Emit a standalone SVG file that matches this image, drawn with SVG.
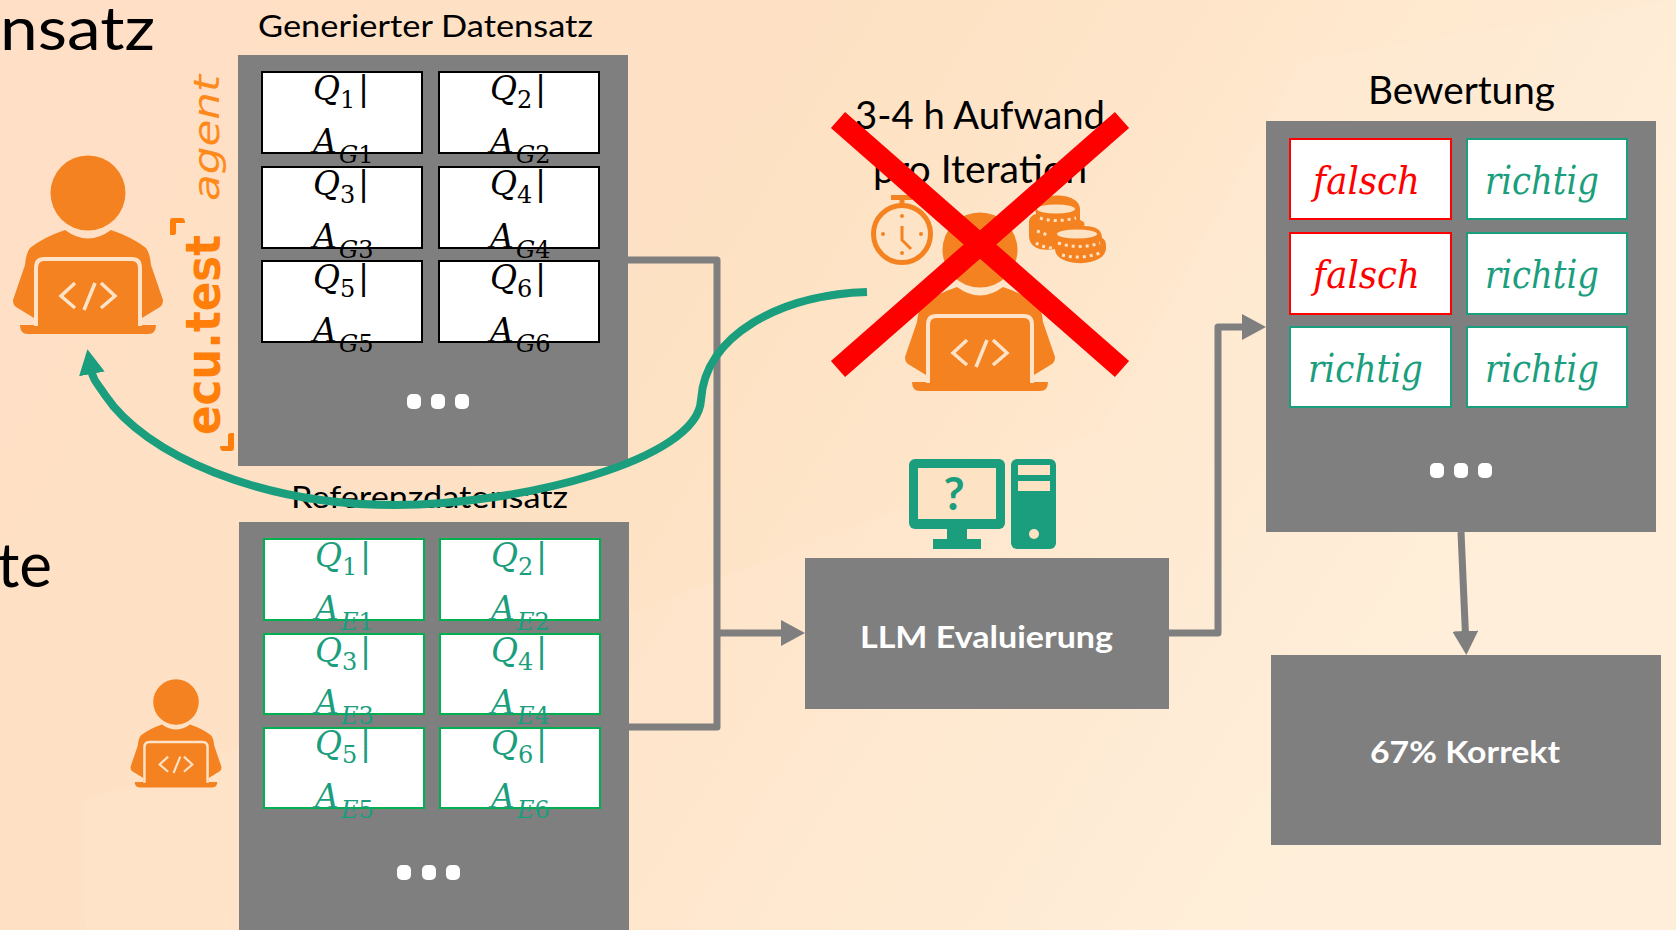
<svg xmlns="http://www.w3.org/2000/svg" width="1676" height="930" viewBox="0 0 1676 930">
<style>
.t{font-family:"Lato","Open Sans",sans-serif;fill:#000}
.m{font-family:"DejaVu Serif",serif;font-style:italic;font-size:33px}
.s{font-size:24px;font-style:normal}
.si{font-size:24px;font-style:italic}
.p{fill:#7f7f7f}
.cb{fill:#fff;stroke:#000;stroke-width:2}
.cg{fill:#fff;stroke:#00b050;stroke-width:2}
.ct{fill:#fff;stroke:#1a9e7d;stroke-width:2}
.cr{fill:#fff;stroke:#f00;stroke-width:2}
.k{fill:#000}.g{fill:#1a9e7d}.r{fill:#f00}
.d{fill:#fff}
.b{font-family:"Lato",sans-serif;font-weight:700;fill:#fff;font-size:31px}
.w{font-size:39px}
.c{fill:none;stroke:#7f7f7f;stroke-width:7;stroke-linejoin:round}
.o{fill:#f58220}
.l{fill:none;stroke:#ffe3c8;stroke-width:4}
</style>
<defs>
<linearGradient id="bg" x1="0" y1="0" x2="1" y2="0.35"><stop offset="0" stop-color="#ffdfc6"/><stop offset="0.5" stop-color="#fee2c4"/><stop offset="1" stop-color="#ffeed8"/></linearGradient>
<marker id="ah" markerUnits="userSpaceOnUse" markerWidth="30" markerHeight="26" refX="4" refY="13" orient="auto"><path d="M0,0L24,13L0,26Z" fill="#7f7f7f"/></marker>
<marker id="ag" markerUnits="userSpaceOnUse" markerWidth="30" markerHeight="26" refX="5" refY="13" orient="auto"><path d="M0,0L25,13L0,26Z" fill="#1a9e7d"/></marker>
<g id="person">
<circle cx="0" cy="0" r="37.5" class="o"/>
<path class="o" d="M-23,37Q0,54 23,37Q44,44 58,55Q62,60 63,72L75,107Q75,112 72,114L54,125V132H68Q68,141 60,141H-60Q-68,141 -68,132H-54V125L-72,114Q-75,112 -75,107L-63,72Q-62,60 -58,55Q-44,44 -23,37Z"/>
<path class="l" d="M-52,133V75Q-52,66 -44,66H44Q52,66 52,75V133"/>
<path d="M-13,90L-27,103L-13,115M13,90L27,103L13,115M7,90L-4,117" fill="none" stroke="#ffe3c8" stroke-width="3.500"/>
</g>
</defs>
<rect id="background" width="1676" height="930" fill="url(#bg)"/>
<path id="background-light" d="M85,930V800L640,610L1100,430L1300,60L1676,0V930Z" fill="#fff" opacity=".07"/>
<text class="t" x="0" y="50" font-size="60" textLength="155" lengthAdjust="spacingAndGlyphs">nsatz</text>
<text class="t" x="52" y="587" font-size="62" text-anchor="end">te</text>

<g id="node-generated">
<text class="t" x="258" y="37" font-size="31" textLength="335" lengthAdjust="spacingAndGlyphs">Generierter Datensatz</text>
<rect class="p" x="238" y="55" width="390" height="411"/>
<rect class="cb" x="262" y="72" width="160" height="81"/><rect class="cb" x="439" y="72" width="160" height="81"/>
<rect class="cb" x="262" y="167" width="160" height="81"/><rect class="cb" x="439" y="167" width="160" height="81"/>
<rect class="cb" x="262" y="261" width="160" height="81"/><rect class="cb" x="439" y="261" width="160" height="81"/>
<g class="m k">
<text x="313" y="100">Q<tspan class="s" x="340" dy="8">1</tspan><tspan x="358" dy="-8">|</tspan></text>
<text x="313" y="153">A<tspan class="si" x="339" dy="10">G</tspan><tspan class="s">1</tspan></text>
<text x="490" y="100">Q<tspan class="s" x="517" dy="8">2</tspan><tspan x="535" dy="-8">|</tspan></text>
<text x="490" y="153">A<tspan class="si" x="516" dy="10">G</tspan><tspan class="s">2</tspan></text>
<text x="313" y="195">Q<tspan class="s" x="340" dy="8">3</tspan><tspan x="358" dy="-8">|</tspan></text>
<text x="313" y="248">A<tspan class="si" x="339" dy="10">G</tspan><tspan class="s">3</tspan></text>
<text x="490" y="195">Q<tspan class="s" x="517" dy="8">4</tspan><tspan x="535" dy="-8">|</tspan></text>
<text x="490" y="248">A<tspan class="si" x="516" dy="10">G</tspan><tspan class="s">4</tspan></text>
<text x="313" y="289">Q<tspan class="s" x="340" dy="8">5</tspan><tspan x="358" dy="-8">|</tspan></text>
<text x="313" y="342">A<tspan class="si" x="339" dy="10">G</tspan><tspan class="s">5</tspan></text>
<text x="490" y="289">Q<tspan class="s" x="517" dy="8">6</tspan><tspan x="535" dy="-8">|</tspan></text>
<text x="490" y="342">A<tspan class="si" x="516" dy="10">G</tspan><tspan class="s">6</tspan></text>
</g>
<rect class="d" x="407" y="394" width="14" height="15" rx="5"/><rect class="d" x="431" y="394" width="14" height="15" rx="5"/><rect class="d" x="455" y="394" width="14" height="15" rx="5"/>
</g>

<g id="node-reference">
<text class="t" x="291" y="508" font-size="31" textLength="277" lengthAdjust="spacingAndGlyphs">Referenzdatensatz</text>
<rect class="p" x="239" y="522" width="390" height="408"/>
<rect class="cg" x="264" y="539" width="160" height="81"/><rect class="cg" x="440" y="539" width="160" height="81"/>
<rect class="cg" x="264" y="634" width="160" height="80"/><rect class="cg" x="440" y="634" width="160" height="80"/>
<rect class="cg" x="264" y="728" width="160" height="80"/><rect class="cg" x="440" y="728" width="160" height="80"/>
<g class="m g">
<text x="315" y="567">Q<tspan class="s" x="342" dy="8">1</tspan><tspan x="360" dy="-8">|</tspan></text>
<text x="315" y="620">A<tspan class="si" x="341" dy="10">E</tspan><tspan class="s">1</tspan></text>
<text x="491" y="567">Q<tspan class="s" x="518" dy="8">2</tspan><tspan x="536" dy="-8">|</tspan></text>
<text x="491" y="620">A<tspan class="si" x="517" dy="10">E</tspan><tspan class="s">2</tspan></text>
<text x="315" y="662">Q<tspan class="s" x="342" dy="8">3</tspan><tspan x="360" dy="-8">|</tspan></text>
<text x="315" y="714">A<tspan class="si" x="341" dy="10">E</tspan><tspan class="s">3</tspan></text>
<text x="491" y="662">Q<tspan class="s" x="518" dy="8">4</tspan><tspan x="536" dy="-8">|</tspan></text>
<text x="491" y="714">A<tspan class="si" x="517" dy="10">E</tspan><tspan class="s">4</tspan></text>
<text x="315" y="755">Q<tspan class="s" x="342" dy="8">5</tspan><tspan x="360" dy="-8">|</tspan></text>
<text x="315" y="808">A<tspan class="si" x="341" dy="10">E</tspan><tspan class="s">5</tspan></text>
<text x="491" y="755">Q<tspan class="s" x="518" dy="8">6</tspan><tspan x="536" dy="-8">|</tspan></text>
<text x="491" y="808">A<tspan class="si" x="517" dy="10">E</tspan><tspan class="s">6</tspan></text>
</g>
<rect class="d" x="397" y="865" width="14" height="15" rx="5"/><rect class="d" x="422" y="865" width="14" height="15" rx="5"/><rect class="d" x="446" y="865" width="14" height="15" rx="5"/>
</g>

<g id="node-ecutest">
<text transform="translate(220,435) rotate(-90)" font-family="'DejaVu Sans',sans-serif" font-weight="700" font-size="48" fill="#ff7f0a" textLength="200" lengthAdjust="spacingAndGlyphs">ecu.test</text>
<text transform="translate(219,201) rotate(-90)" font-family="'DejaVu Sans',sans-serif" font-style="oblique" font-size="35" fill="#ff8a1c" textLength="126" lengthAdjust="spacingAndGlyphs">agent</text>
<path d="M170,221Q170,218 173,218H182Q185,218 185,223H176V233Q176,235 173,235H170Z" fill="#ff7f0a"/>
<path d="M234,433V448Q234,451 231,451H223Q220,451 220,446H228V435Q228,433 231,433Z" fill="#ff7f0a"/>
</g>
<use id="node-person-big" href="#person" transform="translate(88,193)"/>
<use id="node-person-small" href="#person" transform="translate(176,702) scale(.607)"/>

<g id="node-effort">
<text class="t" x="855" y="129" font-size="38" textLength="250" lengthAdjust="spacingAndGlyphs">3-4 h Aufwand</text>
<text class="t" x="873" y="183" font-size="38" textLength="214" lengthAdjust="spacingAndGlyphs">pro Iteration</text>
<use href="#person" transform="translate(980,250)"/>
<g id="clock">
<circle cx="902" cy="234" r="28.5" fill="none" stroke="#f58220" stroke-width="5"/>
<path d="M891,197.500H912M902,198V206" fill="none" stroke="#f58220" stroke-width="5"/>
<path d="M902,226V240L911,249" fill="none" stroke="#f58220" stroke-width="3"/>
<circle cx="902" cy="216" r="2" class="o"/><circle cx="902" cy="253" r="2" class="o"/><circle cx="883" cy="234" r="2" class="o"/><circle cx="921" cy="234" r="2" class="o"/>
</g>
<g id="coins">
<path class="o" d="M1035,209C1035,191 1080,191 1080,209V220C1085,222 1085,224 1084,226C1098,226 1102,231 1102,238C1106,240 1106,243 1106,248C1106,268 1055,268 1055,249C1040,252 1029,247 1029,236V222C1029,218 1032,215 1036,214Z"/>
<ellipse cx="1056" cy="209" rx="19" ry="4.500" fill="#fee2c4"/>
<ellipse cx="1077" cy="234" rx="20" ry="4.500" fill="#fee2c4"/>
<path d="M1040,218Q1055,223 1076,218M1037,231L1050,236M1036,243Q1042,247 1052,248M1058,243Q1080,250 1100,243M1062,255Q1080,260 1100,253" fill="none" stroke="#fee2c4" stroke-width="3" stroke-dasharray="3 4"/>
</g>
</g>

<g id="node-computer">
<rect x="909" y="459" width="96" height="70" rx="6" fill="#1a9e7d"/>
<rect x="918" y="468" width="78" height="51" fill="#fee2c4"/>
<path d="M947,529H967V539H981V549H933V539H947Z" fill="#1a9e7d"/>
<rect x="1011" y="459" width="45" height="90" rx="6" fill="#1a9e7d"/>
<rect x="1018" y="465" width="32" height="10" fill="#fee2c4"/><rect x="1018" y="481" width="32" height="10" fill="#fee2c4"/>
<circle cx="1034" cy="534" r="5" fill="#fee2c4"/>
<text x="954" y="510" font-family="'Lato',sans-serif" font-weight="700" font-size="46" fill="#1a9e7d" text-anchor="middle">?</text>
</g>

<g id="node-llm">
<rect class="p" x="805" y="558" width="364" height="151"/>
<text class="b" x="860" y="648" textLength="253" lengthAdjust="spacingAndGlyphs">LLM Evaluierung</text>
</g>

<g id="node-rating">
<text class="t" x="1368" y="104" font-size="38" textLength="187" lengthAdjust="spacingAndGlyphs">Bewertung</text>
<rect class="p" x="1266" y="121" width="390" height="411"/>
<rect class="cr" x="1290" y="139" width="161" height="80"/><rect class="ct" x="1467" y="139" width="160" height="80"/>
<rect class="cr" x="1290" y="233" width="161" height="81"/><rect class="ct" x="1467" y="233" width="160" height="81"/>
<rect class="ct" x="1290" y="327" width="161" height="80"/><rect class="ct" x="1467" y="327" width="160" height="80"/>
<text class="m w r" x="1313" y="194" textLength="107" lengthAdjust="spacingAndGlyphs">falsch</text>
<text class="m w r" x="1313" y="288" textLength="107" lengthAdjust="spacingAndGlyphs">falsch</text>
<text class="m w g" x="1485" y="194" textLength="114" lengthAdjust="spacingAndGlyphs">richtig</text>
<text class="m w g" x="1485" y="288" textLength="114" lengthAdjust="spacingAndGlyphs">richtig</text>
<text class="m w g" x="1308" y="382" textLength="115" lengthAdjust="spacingAndGlyphs">richtig</text>
<text class="m w g" x="1485" y="382" textLength="114" lengthAdjust="spacingAndGlyphs">richtig</text>
<rect class="d" x="1430" y="463" width="14" height="15" rx="5"/><rect class="d" x="1454" y="463" width="14" height="15" rx="5"/><rect class="d" x="1478" y="463" width="14" height="15" rx="5"/>
</g>

<g id="node-result">
<rect class="p" x="1271" y="655" width="390" height="190"/>
<text class="b" x="1370" y="763" textLength="190" lengthAdjust="spacingAndGlyphs">67% Korrekt</text>
</g>

<g id="connectors">
<path class="c" d="M628,260H717V727H629"/>
<path class="c" d="M717,633H785" marker-end="url(#ah)"/>
<path class="c" d="M1169,633H1218V327H1246" marker-end="url(#ah)"/>
<path class="c" d="M1461,532L1465.500,635" marker-end="url(#ah)"/>
<path d="M867,292C780,295 705,335 701,400C698,460 520,505 395,505C260,505 145,455 105,395C97,383 93,380 91,369" fill="none" stroke="#1a9e7d" stroke-width="8" marker-end="url(#ag)"/>
</g>
<path id="cross" d="M838,120L1122,369M1122,120L838,369" stroke="#f00" stroke-width="21.500" fill="none"/>
</svg>
